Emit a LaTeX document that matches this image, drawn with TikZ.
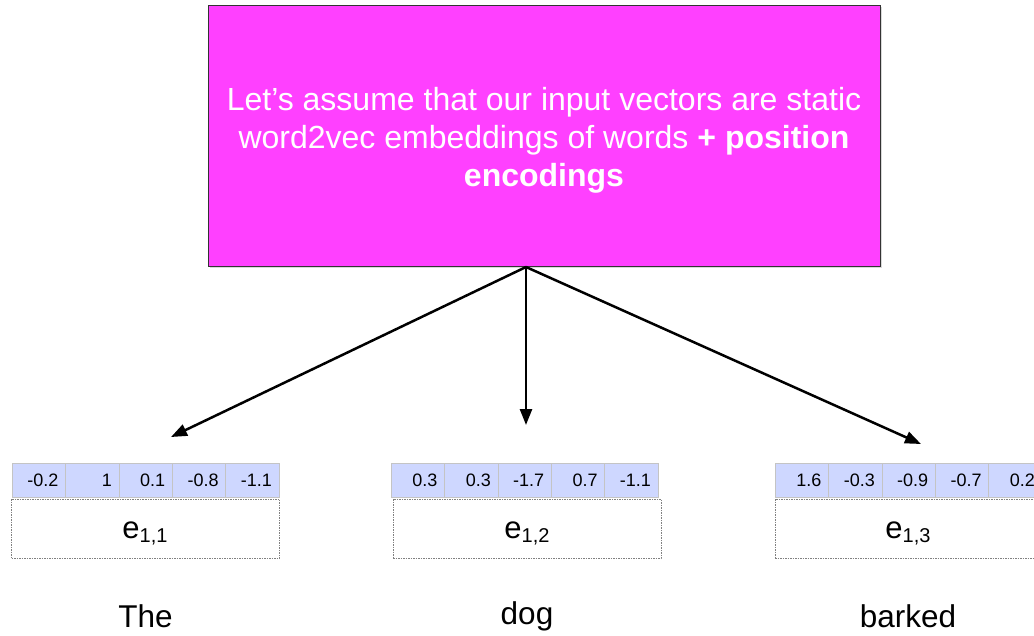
\documentclass[tikz,border=0pt]{standalone}
\usepackage{fontspec}
\setmainfont{Liberation Sans}
\usetikzlibrary{arrows.meta,shadows}
\definecolor{boxmagenta}{HTML}{FF40FF}
\definecolor{cellblue}{HTML}{CED7FF}
\definecolor{cellline}{HTML}{C4C4C4}
\newcommand{\embsub}[1]{\raisebox{-4pt}{\fontsize{20}{20}\selectfont #1}}

\begin{document}
\begin{tikzpicture}[x=1pt,y=-1pt,
  note/.style={draw=black!80, fill=boxmagenta, inner sep=0pt,
    minimum width=672pt, minimum height=261pt,
    drop shadow={shadow xshift=2pt, shadow yshift=-2pt, opacity=0.3}},
  notetext/.style={text=white, align=center, font=\fontsize{32}{38}\selectfont},
  cell/.style={draw=cellline, fill=cellblue, minimum width=53.4pt, minimum height=34pt,
    text width=39.4pt, align=right, inner xsep=7pt, inner ysep=0pt, font=\fontsize{18}{20}\selectfont},
  emb/.style={draw=gray, dash pattern=on 1.5pt off 1pt, minimum width=268pt, minimum height=59pt},
  emblabel/.style={font=\fontsize{31}{34}\selectfont},
  word/.style={font=\fontsize{31.5}{34}\selectfont},
  arr/.style={-{Triangle[length=16pt,width=12pt]}, line width=2.5pt}
]
\clip (0,0) rectangle (1034,635);

\node[note] (note) at (544,135.5) {};
\node[notetext] (notetxt) at (544,140) {Let’s assume that our input vectors are static\\
  word2vec embeddings of words \textbf{+ position}\\ \textbf{encodings}};

% one row of cells per word
\foreach \v [count=\i] in {-0.2,1,0.1,-0.8,-1.1}
  \node[cell] (the\i) at ({12+53.4*\i-26.7},480) {\v};
\foreach \v [count=\i] in {0.3,0.3,-1.7,0.7,-1.1}
  \node[cell] (dog\i) at ({391+53.4*\i-26.7},480) {\v};
\foreach \v [count=\i] in {1.6,-0.3,-0.9,-0.7,0.2}
  \node[cell] (barked\i) at ({775+53.4*\i-26.7},480) {\v};

\node[emb] (e1) at (145.5,528.5) {};
\node[emb] (e2) at (527,528.5) {};
\node[emb] (e3) at (909,528.5) {};
\node[emblabel] (l1) at (145,533) {e\embsub{1,1}};
\node[emblabel] (l2) at (527,533) {e\embsub{1,2}};
\node[emblabel] (l3) at (908,533) {e\embsub{1,3}};

\node[word] (w1) at (145.5,616) {The};
\node[word] (w2) at (527,616) {dog};
\node[word] (w3) at (908,616) {barked};

\coordinate (src) at (526,267);
\coordinate (t1) at (171,437);
\coordinate (t2) at (526,425);
\coordinate (t3) at (921,444);
\draw[arr] (src) -- (t1);
\draw[arr] (src) -- (t2);
\draw[arr] (src) -- (t3);
\end{tikzpicture}
\end{document}
